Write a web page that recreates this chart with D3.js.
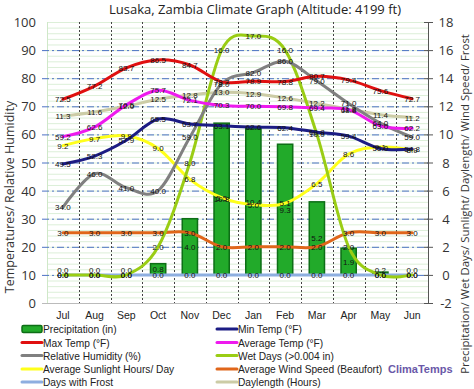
<!DOCTYPE html>
<html>
<head>
  <meta charset="utf-8">
  <title>Lusaka, Zambia Climate Graph</title>
  <style>
    html, body { margin: 0; padding: 0; background: #fff; }
    svg { display: block; }
    .title { font: 13px "Open Sans", sans-serif; fill: #222; }
    .tick-label { font: 13px "Open Sans", sans-serif; fill: #333; }
    .axis-title { font: 12.5px "Open Sans", sans-serif; fill: #333; }
    .axis-title.right { font-size: 11.4px; }
    .month { font: 10.5px "Liberation Sans", Arial, sans-serif; fill: #222; }
    .val { font: 8px "Liberation Sans", Arial, sans-serif; fill: #111; }
    .legend text { font: 10.2px "Liberation Sans", Arial, sans-serif; fill: #222; }
    .brand { font: bold 11px "Liberation Sans", Arial, sans-serif; fill: #6a58a8; }
  </style>
</head>
<body>
<svg id="chart" width="474" height="389"></svg>
<script src="https://d3js.org/d3.v7.min.js"></script>
<script>
  // months and series
  const months = ["Jul", "Aug", "Sep", "Oct", "Nov", "Dec", "Jan", "Feb", "Mar", "Apr", "May", "Jun"];

  // left axis (degrees F / %)
  const maxTemp  = [72.5, 77.2, 83.7, 86.5, 84.7, 78.7, 78.9, 78.8, 80.7, 79.4, 75.6, 72.7];
  const minTemp  = [49.5, 52.3, 57.9, 65.5, 63.7, 63.1, 62.6, 62.4, 60.8, 59.4, 55.0, 54.8];
  const avgTemp  = [59.2, 62.6, 70.5, 75.7, 72.1, 70.3, 70.0, 69.8, 69.4, 68.8, 63.0, 62.2];
  const humidity = [34.0, 46.0, 41.0, 40.0, 59.0, 78.0, 82.0, 86.0, 79.0, 71.0, 64.0, 59.0];

  // right axis
  const precip    = [0.0, 0.0, 0.0, 0.8, 4.0, 10.8, 10.4, 9.3, 5.2, 1.9, 0.2, 0.0];
  const wetDays   = [0.0, 0.0, 0.0, 2.0, 8.0, 16.0, 17.0, 16.0, 10.0, 2.0, 0.0, 0.0];
  const sunlight  = [9.2, 9.7, 9.9, 9.0, 6.8, 5.5, 5.0, 5.1, 6.5, 8.6, 9.1, 8.9];
  const windSpeed = [3.0, 3.0, 3.0, 3.0, 3.0, 2.0, 2.0, 2.0, 2.0, 3.0, 3.0, 3.0];
  const frost     = [0.0, 0.0, 0.0, 0.0, 0.0, 0.0, 0.0, 0.0, 0.0, 0.0, 0.0, 0.0];
  const daylength = [11.3, 11.6, 12.0, 12.5, 12.8, 13.0, 12.9, 12.6, 12.2, 11.8, 11.4, 11.2];

  const leftTicks  = [0, 10, 20, 30, 40, 50, 60, 70, 80, 90, 100];
  const rightTicks = [-2, 0, 2, 4, 6, 8, 10, 12, 14, 16, 18];

  const plot = {left: 47, right: 428, top: 22, bottom: 303};

  const svg = d3.select("#chart");

  const x = d3.scaleBand().domain(months).range([plot.left, plot.right]).padding(0);
  const cx = m => x(m) + x.bandwidth() / 2;
  const yL = d3.scaleLinear().domain([0, 100]).range([plot.bottom, plot.top]);
  const yR = d3.scaleLinear().domain([-2, 18]).range([plot.bottom, plot.top]);

  // title
  svg.append("text").attr("class", "title")
    .attr("x", 255).attr("y", 14).attr("text-anchor", "middle")
    .text("Lusaka, Zambia Climate Graph (Altitude: 4199 ft)");

  // minor light-green gridlines
  const g = svg.append("g");
  g.selectAll("line.minor").data(d3.range(0, 101, 2)).enter().append("line")
    .attr("x1", plot.left).attr("x2", plot.right)
    .attr("y1", d => yL(d) + 0.5).attr("y2", d => yL(d) + 0.5)
    .attr("stroke", "#dcefd8").attr("stroke-width", 1);

  // left plot border (light green)
  g.append("line").attr("x1", plot.left + 0.5).attr("x2", plot.left + 0.5)
    .attr("y1", plot.top).attr("y2", plot.bottom)
    .attr("stroke", "#cfe8c8");

  // major dash-dot gridlines
  g.selectAll("line.major").data(leftTicks.filter(d => d > 0 && d < 100)).enter().append("line")
    .attr("x1", plot.left - 5).attr("x2", plot.right)
    .attr("y1", d => yL(d) + 0.5).attr("y2", d => yL(d) + 0.5)
    .attr("stroke", "#4d72c4").attr("stroke-width", 1)
    .attr("stroke-dasharray", "7,3,2,3");

  // vertical dotted month separators
  g.selectAll("line.vsep").data(months.slice(1)).enter().append("line")
    .attr("x1", d => Math.round(x(d)) + 0.5).attr("x2", d => Math.round(x(d)) + 0.5)
    .attr("y1", plot.top).attr("y2", plot.bottom)
    .attr("stroke", "#444").attr("stroke-width", 1)
    .attr("stroke-dasharray", "2,2");

  // bottom line
  g.append("line").attr("x1", plot.left - 5).attr("x2", plot.right)
    .attr("y1", plot.bottom + 0.5).attr("y2", plot.bottom + 0.5)
    .attr("stroke", "#bbb");

  // left tick labels
  svg.selectAll("text.lt").data(leftTicks).enter().append("text")
    .attr("class", "tick-label").attr("x", 36).attr("y", d => yL(d) + 5)
    .attr("text-anchor", "end").text(d => d);

  // right axis
  svg.append("line").attr("x1", plot.right + 0.5).attr("x2", plot.right + 0.5)
    .attr("y1", plot.top).attr("y2", plot.bottom).attr("stroke", "#555");
  svg.selectAll("line.rt").data(rightTicks).enter().append("line")
    .attr("x1", plot.right - 4).attr("x2", plot.right + 5)
    .attr("y1", d => yR(d) + 0.5).attr("y2", d => yR(d) + 0.5).attr("stroke", "#555");
  svg.selectAll("text.rt").data(rightTicks).enter().append("text")
    .attr("class", "tick-label").attr("x", 446).attr("y", d => yR(d) + 5)
    .attr("text-anchor", "middle").text(d => d);

  // axis titles
  svg.append("text").attr("class", "axis-title")
    .attr("transform", "translate(14,197) rotate(-90)")
    .attr("text-anchor", "middle").text("Temperatures/ Relative Humidity");
  svg.append("text").attr("class", "axis-title right")
    .attr("transform", "translate(469,204) rotate(-90)")
    .attr("text-anchor", "middle")
    .text("Precipitation/ Wet Days/ Sunlight/ Daylength/ Wind Speed/ Frost");

  // month labels
  svg.selectAll("text.month").data(months).enter().append("text")
    .attr("class", "month").attr("x", d => cx(d)).attr("y", 319)
    .attr("text-anchor", "middle").text(d => d);

  // precipitation bars
  const barW = x.bandwidth() * 0.48;
  svg.selectAll("rect.bar").data(precip).enter().append("rect")
    .attr("x", (d, i) => cx(months[i]) - barW / 2)
    .attr("y", d => yR(d))
    .attr("width", barW)
    .attr("height", d => yR(0) - yR(d))
    .attr("fill", "#22aa2a").attr("stroke", "#0d6e16").attr("stroke-width", 1.5);

  // line series
  const series = [
    {name: "Days with Frost", vals: frost, scale: yR, color: "#8eaee0"},
    {name: "Wind", vals: windSpeed, scale: yR, color: "#e0661a"},
    {name: "Sunlight", vals: sunlight, scale: yR, color: "#ffff1a"},
    {name: "Daylength", vals: daylength, scale: yR, color: "#cccca6"},
    {name: "Wet Days", vals: wetDays, scale: yR, color: "#9acd14"},
    {name: "Humidity", vals: humidity, scale: yL, color: "#808080"},
    {name: "Min", vals: minTemp, scale: yL, color: "#1c1c84"},
    {name: "Avg", vals: avgTemp, scale: yL, color: "#ee1aee"},
    {name: "Max", vals: maxTemp, scale: yL, color: "#e01010"}
  ];

  const lineGen = d3.line().curve(d3.curveCardinal.tension(0));
  series.forEach(s => {
    svg.append("path")
      .attr("d", lineGen(s.vals.map((v, i) => [cx(months[i]), s.scale(v)])))
      .attr("fill", "none").attr("stroke", s.color).attr("stroke-width", 3)
      .attr("stroke-linejoin", "round").attr("stroke-linecap", "round");
  });

  // value labels
  const fmt = d3.format(".1f");
  series.forEach(s => {
    svg.selectAll(null).data(s.vals).enter().append("text")
      .attr("class", "val")
      .attr("x", (d, i) => cx(months[i]))
      .attr("y", d => s.scale(d) + 3)
      .attr("text-anchor", "middle").text(d => fmt(d));
  });
  svg.selectAll(null).data(precip).enter().append("text")
    .attr("class", "val")
    .attr("x", (d, i) => cx(months[i]))
    .attr("y", d => Math.min((yR(d) + yR(0)) / 2, yR(0) - 5) + 3)
    .attr("text-anchor", "middle").text(d => fmt(d));

  // legend
  const legendItems = [
    {label: "Precipitation (in)", color: "#22aa2a", bar: true, col: 0, row: 0},
    {label: "Max Temp (°F)", color: "#e01010", col: 0, row: 1},
    {label: "Relative Humidity (%)", color: "#808080", col: 0, row: 2},
    {label: "Average Sunlight Hours/ Day", color: "#ffff1a", col: 0, row: 3},
    {label: "Days with Frost", color: "#8eaee0", col: 0, row: 4},
    {label: "Min Temp (°F)", color: "#1c1c84", col: 1, row: 0},
    {label: "Average Temp (°F)", color: "#ee1aee", col: 1, row: 1},
    {label: "Wet Days (>0.004 in)", color: "#9acd14", col: 1, row: 2},
    {label: "Average Wind Speed (Beaufort)", color: "#e0661a", col: 1, row: 3},
    {label: "Daylength (Hours)", color: "#cccca6", col: 1, row: 4}
  ];
  const colX = [22, 217];
  const rowY = [329, 342.5, 355.5, 369, 382];
  const legend = svg.append("g").attr("class", "legend");
  legendItems.forEach(it => {
    const lx = colX[it.col], ly = rowY[it.row];
    if (it.bar) {
      legend.append("rect").attr("x", lx).attr("y", ly - 3.5).attr("width", 20).attr("height", 7)
        .attr("rx", 1.5)
        .attr("fill", it.color).attr("stroke", "#0d6e16").attr("stroke-width", 1.5);
    } else {
      legend.append("line").attr("x1", lx).attr("x2", lx + 20)
        .attr("y1", ly).attr("y2", ly)
        .attr("stroke", it.color).attr("stroke-width", 3).attr("stroke-linecap", "round");
    }
    legend.append("text").attr("x", lx + 21).attr("y", ly + 4).text(it.label);
  });

  svg.append("text").attr("class", "brand").attr("x", 388).attr("y", 373).text("ClimaTemps");
</script>
</body>
</html>
